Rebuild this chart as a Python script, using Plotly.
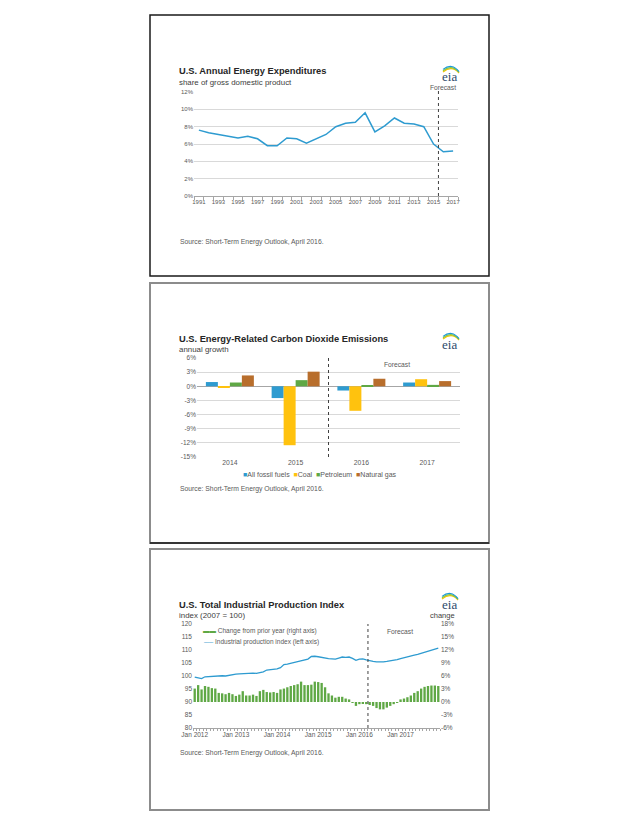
import plotly.graph_objects as go

W, H = 638, 826
OFF = 8  # default page body margin
def px(x): return (x - OFF) / W
def py(y): return 1 - (y - OFF) / H

FONT = "Liberation Sans, Arial, sans-serif"
TXT = "#262626"
TICK = "#595959"
GRID = "#d9d9d9"

# ---------------- data ----------------
years = list(range(1991, 2018))
expend_share = [7.6, 7.3, 7.1, 6.9, 6.7, 6.9, 6.6, 5.8, 5.8, 6.7, 6.6, 6.1, 6.6, 7.1,
                8.0, 8.4, 8.5, 9.6, 7.4, 8.1, 9.0, 8.4, 8.3, 8.0, 6.0, 5.1, 5.2]
expend_ticks = [0, 2, 4, 6, 8, 10, 12]
expend_forecast_after = 2015

co2_years = ["2014", "2015", "2016", "2017"]
co2_fossil = [0.9, -2.5, -0.9, 0.8]
co2_coal = [-0.2, -12.5, -5.2, 1.5]
co2_petroleum = [0.8, 1.3, 0.2, 0.3]
co2_natgas = [2.3, 3.1, 1.6, 1.1]
co2_ticks = [-15, -12, -9, -6, -3, 0, 3, 6]
co2_forecast_after = 1  # index of 2015

months = list(range(72))  # Jan 2012 .. Dec 2017
month_tick_labels = ["Jan 2012", "Jan 2013", "Jan 2014", "Jan 2015", "Jan 2016", "Jan 2017"]
ip_index = [99.6, 99.4, 99.0, 99.7, 99.8, 99.9, 100.0, 99.9, 100.1, 100.0, 100.3, 100.5,
            100.7, 100.8, 100.9, 101.0, 101.0, 101.1, 101.0, 101.3, 101.6, 102.3, 102.4, 102.6,
            102.7, 103.2, 104.4, 104.6, 104.9, 105.2, 105.5, 105.7, 106.0, 106.5, 107.5, 107.6,
            107.4, 107.1, 106.9, 106.7, 106.6, 106.5, 106.9, 107.3, 107.2, 107.3, 106.8, 106.0,
            106.5, 106.6, 106.2, 105.8, 105.6, 105.4, 105.3, 105.4, 105.6, 105.8, 106.0, 106.3,
            106.7, 107.1, 107.5, 107.8, 108.0, 108.3, 108.7, 109.1, 109.5, 109.9, 110.3, 110.7]
ip_change = [3.1, 3.9, 2.9, 3.7, 3.5, 3.2, 3.1, 2.1, 2.0, 1.8, 2.1, 1.8,
             1.4, 1.7, 2.5, 1.5, 1.5, 1.7, 1.4, 2.5, 2.8, 2.3, 2.2, 2.3,
             2.1, 2.9, 3.1, 3.4, 3.7, 3.9, 4.1, 4.7, 3.9, 3.9, 4.0, 4.7,
             4.6, 4.4, 3.4, 2.0, 1.5, 1.0, 1.2, 1.2, 0.8, 0.6, -0.2, -0.9,
             -0.5, -0.3, -0.5, -0.7, -0.9, -1.4, -1.7, -1.7, -1.3, -0.9, -0.5, -0.2,
             0.6, 0.8, 1.1, 1.5, 2.1, 2.5, 3.1, 3.5, 3.7, 3.8, 3.8, 3.7]
ip_left_ticks = [80, 85, 90, 95, 100, 105, 110, 115, 120]
ip_right_ticks = [-6, -3, 0, 3, 6, 9, 12, 15, 18]
ip_forecast_after = 50  # Mar 2016

BLUE = "#2e9bd0"
YELLOW = "#ffc20e"
GREEN = "#5fa845"
BROWN = "#b86e2c"

def pct(v):
    return "%d%%" % v

fig = go.Figure()

# ---------------- panel 1 ----------------
fig.add_trace(go.Scatter(x=years, y=expend_share, mode="lines",
                         line=dict(color=BLUE, width=1.5), showlegend=False,
                         xaxis="x", yaxis="y"))

# ---------------- panel 2 ----------------
co2_series = [("All fossil fuels", co2_fossil, BLUE), ("Coal", co2_coal, YELLOW),
              ("Petroleum", co2_petroleum, GREEN), ("Natural gas", co2_natgas, BROWN)]
for name, vals, col in co2_series:
    fig.add_trace(go.Bar(x=co2_years, y=vals, name=name, marker=dict(color=col, line=dict(width=0)),
                         showlegend=False, xaxis="x2", yaxis="y2"))

# ---------------- panel 3 ----------------
fig.add_trace(go.Bar(x=months, y=ip_change, name="Change from prior year (right axis)",
                     marker=dict(color=GREEN, line=dict(width=0)), width=0.68, showlegend=False,
                     xaxis="x3", yaxis="y4"))
fig.add_trace(go.Scatter(x=months, y=ip_index, mode="lines", name="Industrial production index (left axis)",
                         line=dict(color=BLUE, width=1.3), showlegend=False, xaxis="x3", yaxis="y3"))

def tf(s):
    return dict(family=FONT, size=s, color=TICK)

# plot areas (pixels)
P1 = dict(x0=194, x1=458, y0=92, y1=196)
P2 = dict(x0=197, x1=460, y0=358, y1=457)
P3 = dict(x0=193, x1=440, y0=624, y1=728)

fig.update_layout(
    width=W, height=H, margin=dict(l=0, r=0, t=0, b=0, autoexpand=False),
    paper_bgcolor="white", plot_bgcolor="white",
    font=dict(family=FONT, color=TXT),
    barmode="group", bargap=0.27, bargroupgap=0, showlegend=False,
    xaxis=dict(domain=[px(P1["x0"]), px(P1["x1"])], anchor="y", range=[1990.5, 2017.5],
               tickmode="array", tickvals=years[::2], ticktext=[str(y) for y in years[::2]],
               ticks="", showgrid=False, zeroline=False, showline=True, linecolor="#a6a6a6",
               linewidth=1, tickfont=tf(6), automargin=False,
               minor=dict(tickmode="linear", tick0=0.5, dtick=1, ticks="outside", ticklen=3,
                          tickcolor="#a6a6a6", showgrid=False)),
    yaxis=dict(domain=[py(P1["y1"]), py(P1["y0"])], anchor="x", range=[0, 12],
               tickmode="array", tickvals=expend_ticks, ticktext=[pct(v) for v in expend_ticks],
               showgrid=True, gridcolor=GRID, gridwidth=1, zeroline=False, automargin=False,
               showline=False, tickfont=tf(6), ticks=""),
    xaxis2=dict(domain=[px(P2["x0"]), px(P2["x1"])], anchor="y2", type="category",
                showgrid=False, zeroline=False, showline=False, ticks="", tickfont=tf(6.8),
                automargin=False),
    yaxis2=dict(domain=[py(P2["y1"]), py(P2["y0"])], anchor="x2", range=[-15, 6],
                tickmode="array", tickvals=co2_ticks, ticktext=[pct(v) for v in co2_ticks],
                showgrid=True, gridcolor=GRID, zeroline=True, zerolinecolor="#a6a6a6",
                zerolinewidth=1, showline=False, tickfont=tf(6.5), ticks="", automargin=False),
    xaxis3=dict(domain=[px(P3["x0"]), px(P3["x1"])], anchor="y3", range=[-0.5, 71.5],
                tickmode="array", tickvals=months[::12], ticktext=month_tick_labels,
                ticks="", showgrid=False, zeroline=False, showline=True, linecolor="#a6a6a6",
                tickfont=tf(6.5), automargin=False,
                minor=dict(tickmode="linear", tick0=-0.5, dtick=1, ticks="outside", ticklen=2,
                           tickcolor="#a6a6a6", showgrid=False)),
    yaxis3=dict(domain=[py(P3["y1"]), py(P3["y0"])], anchor="x3", range=[80, 120],
                tickmode="array", tickvals=ip_left_ticks,
                showgrid=False, zeroline=False, showline=False, tickfont=tf(6.5), ticks="",
                automargin=False),
    yaxis4=dict(overlaying="y3", side="right", anchor="x3", range=[-6, 18],
                tickmode="array", tickvals=ip_right_ticks, ticktext=[pct(v) for v in ip_right_ticks],
                showgrid=False, zeroline=False, showline=False, automargin=False,
                tickfont=tf(6.5), ticks=""),
)

shapes = []
# panel borders
shapes.append(dict(type="rect", xref="paper", yref="paper", x0=px(150), x1=px(489), y0=py(276), y1=py(15),
                   line=dict(color="#1a1a1a", width=1.5)))
shapes.append(dict(type="rect", xref="paper", yref="paper", x0=px(150), x1=px(489), y0=py(543), y1=py(283),
                   line=dict(color="#8c8c8c", width=2)))
shapes.append(dict(type="line", xref="paper", yref="paper", x0=px(150), x1=px(489), y0=py(543), y1=py(543),
                   line=dict(color="#1a1a1a", width=1.5)))
shapes.append(dict(type="rect", xref="paper", yref="paper", x0=px(150), x1=px(489), y0=py(810), y1=py(549),
                   line=dict(color="#8c8c8c", width=2)))

# forecast dashed lines
shapes.append(dict(type="line", xref="x", yref="paper", x0=expend_forecast_after + 0.5,
                   x1=expend_forecast_after + 0.5, y0=py(P1["y1"]), y1=py(91),
                   line=dict(color="#404040", width=1, dash="dot")))
shapes.append(dict(type="line", xref="x2", yref="paper", x0=co2_forecast_after + 0.5,
                   x1=co2_forecast_after + 0.5, y0=py(P2["y1"]), y1=py(P2["y0"]),
                   line=dict(color="#404040", width=1, dash="dot")))
shapes.append(dict(type="line", xref="x3", yref="paper", x0=ip_forecast_after + 0.5,
                   x1=ip_forecast_after + 0.5, y0=py(P3["y1"]), y1=py(P3["y0"]),
                   line=dict(color="#404040", width=1, dash="dot")))

annotations = []
def txt(x, y, s, size, color=TXT, bold=False, xanchor="left", family=FONT):
    annotations.append(dict(xref="paper", yref="paper", x=px(x), y=py(y), text=("<b>%s</b>" % s) if bold else s,
                            showarrow=False, xanchor=xanchor, yanchor="middle",
                            font=dict(family=family, size=size, color=color)))

def logo(cx, cy):
    txt(cx, cy, "eia", 13, color="#2b4a6b", xanchor="center", family="Liberation Serif, DejaVu Serif, serif")
    for i, col in enumerate(["#f5c400", "#8dc63f", "#1c9ad6"]):
        d = i * 1.3
        shapes.append(dict(type="path", xref="paper", yref="paper",
                           path="M %f,%f Q %f,%f %f,%f" % (px(cx - 7), py(cy - 5 - d), px(cx + 2), py(cy - 12 - d),
                                                           px(cx + 9), py(cy - 4 - d * 0.5)),
                           line=dict(color=col, width=1.2)))

TITLE_SZ, SUB_SZ, SRC_SZ = 9.3, 7.9, 6.8

# panel 1 texts
txt(177, 71, "U.S. Annual Energy Expenditures", TITLE_SZ, bold=True)
txt(177, 82, "share of gross domestic product", SUB_SZ, color="#404040")
txt(458, 87, "Forecast", 6.7, color=TICK, xanchor="right")
txt(178, 242, "Source: Short-Term Energy Outlook, April 2016.", SRC_SZ, color=TICK)
logo(450, 77)

# panel 2 texts
txt(177, 339, "U.S. Energy-Related Carbon Dioxide Emissions", TITLE_SZ, bold=True)
txt(177, 349, "annual growth", SUB_SZ, color="#404040")
txt(397, 364, "Forecast", 6.7, color=TICK, xanchor="center")
txt(178, 489, "Source: Short-Term Energy Outlook, April 2016.", SRC_SZ, color=TICK)
logo(450, 344)
# panel 2 legend
leg = "&nbsp;&nbsp;".join("<span style='color:%s'>■</span>%s" % (col, name) for name, vals, col in co2_series)
txt(320, 475, leg, 7, color=TICK, xanchor="center")

# panel 3 texts
txt(177, 605, "U.S. Total Industrial Production Index", TITLE_SZ, bold=True)
txt(177, 615, "index (2007 = 100)", SUB_SZ, color="#404040")
txt(457, 615, "change", 7.5, color="#404040", xanchor="right")
txt(400, 631, "Forecast", 6.7, color=TICK, xanchor="center")
txt(178, 753, "Source: Short-Term Energy Outlook, April 2016.", SRC_SZ, color=TICK)
logo(449, 604)
# panel 3 legend
txt(201, 631, "<span style='color:%s'>▬▬</span> Change from prior year (right axis)" % GREEN, 6.5, color=TICK)
txt(201, 642, "<span style='color:%s'>──</span> Industrial production index (left axis)" % BLUE, 6.5, color=TICK)

fig.update_layout(shapes=shapes, annotations=annotations)
fig.write_html("out.html")
